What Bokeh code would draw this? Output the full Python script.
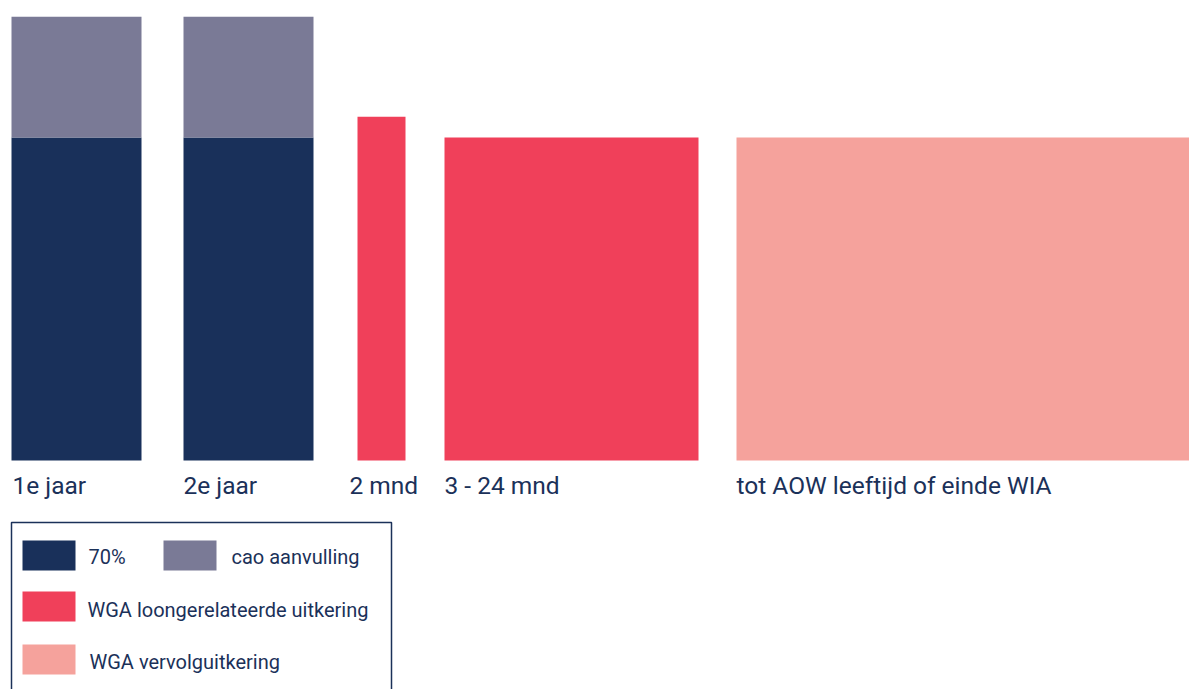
from bokeh.plotting import figure
from bokeh.models import Range1d
from bokeh.core.properties import value
from bokeh.embed import file_html
from bokeh.resources import INLINE

# ---- data ----
categories = ["1e jaar", "2e jaar", "2 mnd", "3 - 24 mnd", "tot AOW leeftijd of einde WIA"]
base_pct = [70, 70, 0, 0, 0]            # 70% uitkering
cao_pct = [26.2, 26.2, 0, 0, 0]         # cao aanvulling
wga_loon_pct = [0, 0, 74.5, 70, 0]      # WGA loongerelateerde uitkering
wga_vervolg_pct = [0, 0, 0, 0, 70]      # WGA vervolguitkering
bar_left = [11, 183, 357, 444, 736]
bar_right = [141, 313, 405, 698, 1189]
label_x = [12, 183, 349, 444, 736]

legend_labels = ["70%", "cao aanvulling", "WGA loongerelateerde uitkering", "WGA vervolguitkering"]

NAVY = "#19305a"
GREY = "#7a7a96"
RED = "#f0405a"
PINK = "#f5a29c"
TEXT = "#1b3159"
FONT = value("Roboto")

W, H = 1189, 689
PX_PER_UNIT = 4.614
BASE_PX = 460  # pixel row of value 0


def ypx(py):
    return (BASE_PX - py) / PX_PER_UNIT


p = figure(width=W, height=H, output_backend="svg", toolbar_location=None,
           x_range=Range1d(0, W), y_range=Range1d(ypx(H), ypx(0)),
           min_border=0)
p.axis.visible = False
p.grid.visible = False
p.outline_line_color = None
p.background_fill_color = "white"
p.border_fill_color = "white"

zero = [0] * len(categories)
stack1 = [b + c for b, c in zip(base_pct, cao_pct)]

p.quad(left=bar_left, right=bar_right, bottom=zero, top=base_pct, fill_color=NAVY, line_color=None)
p.quad(left=bar_left, right=bar_right, bottom=base_pct, top=stack1, fill_color=GREY, line_color=None)
p.quad(left=bar_left, right=bar_right, bottom=zero, top=wga_loon_pct, fill_color=RED, line_color=None)
p.quad(left=bar_left, right=bar_right, bottom=zero, top=wga_vervolg_pct, fill_color=PINK, line_color=None)

# category labels
p.text(x=label_x, y=[ypx(485)] * len(categories), text=categories,
       text_font=FONT, text_font_size="24.5px", text_color=TEXT,
       text_baseline="middle", text_align="left")

# legend box
p.quad(left=[11], right=[391], top=[ypx(522)], bottom=[ypx(H + 20)],
       fill_color=None, line_color=TEXT, line_width=1.5)

sw_left = [22, 163, 22, 22]
sw_right = [75, 216, 75, 75]
sw_top = [540, 540, 591, 644]
sw_bot = [570, 570, 621, 674]
sw_col = [NAVY, GREY, RED, PINK]
p.quad(left=sw_left, right=sw_right, top=[ypx(v) for v in sw_top], bottom=[ypx(v) for v in sw_bot],
       fill_color=sw_col, line_color=None)

lt_x = [88, 231, 87, 89]
lt_y = [556, 556, 609, 661]
p.text(x=lt_x, y=[ypx(v) for v in lt_y], text=legend_labels,
       text_font=FONT, text_font_size="20px", text_color=TEXT,
       text_baseline="middle", text_align="left")

open("out.html", "w").write(file_html(p, INLINE))
